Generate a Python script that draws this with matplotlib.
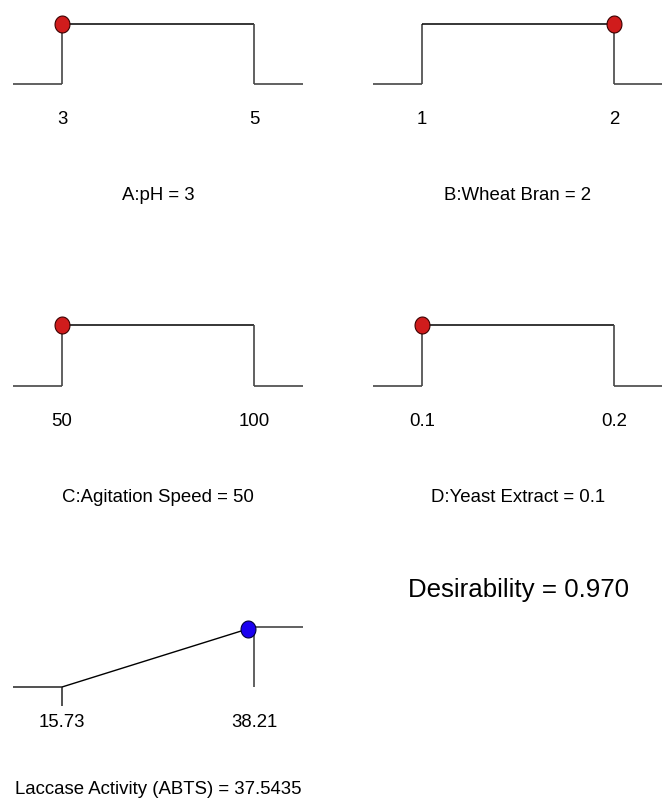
import numpy as np
import matplotlib
matplotlib.use('Agg')
import matplotlib.pyplot as plt
from matplotlib.path import Path

# factor ranges and the optimum setting found
factors = ['A:pH', 'B:Wheat Bran', 'C:Agitation Speed', 'D:Yeast Extract']
lows = [3, 1, 50, 0.1]
highs = [5, 2, 100, 0.2]
settings = [3, 2, 50, 0.1]
low_labels = ['3', '1', '50', '0.1']
high_labels = ['5', '2', '100', '0.2']

# response
response = 'Laccase Activity (ABTS)'
resp_low = 15.73
resp_high = 38.21
resp_value = 37.5435
desirability = 0.970

W, H = 662, 805
plt.rcParams['font.family'] = ['Liberation Sans', 'DejaVu Sans']
fig = plt.figure(figsize=(W / 100, H / 100), dpi=100)

GRAY = '#454545'
PX = 0.72  # points per pixel


def make_ax(x_low, x_high, top, base):
    # axes spanning the low..high range in pixels, y 0..1 between base and top
    ax = fig.add_axes([x_low / W, 1 - base / H, (x_high - x_low) / W, (base - top) / H])
    ax.set_ylim(0, 1)
    ax.axis('off')
    return ax


theta = np.linspace(0, 2 * np.pi, 60)
ellipse = Path(np.column_stack([0.88 * np.cos(theta), np.sin(theta)]))

# pixel layout of the four factor panels: (x_low, x_high, top, base)
layout = [(62, 254, 24, 84), (422, 614, 24, 84), (62, 254, 325, 386), (422, 614, 325, 386)]

for i, name in enumerate(factors):
    lo, hi, val = lows[i], highs[i], settings[i]
    ax = make_ax(*layout[i])
    ax.set_xlim(lo, hi)
    ext = 49 / 192 * (hi - lo)
    kw = dict(clip_on=False, solid_capstyle='butt')
    ax.plot([lo - ext, lo], [0, 0], color=GRAY, lw=1.2, **kw)
    ax.plot([lo, lo], [0, 1], color=GRAY, lw=1.2, **kw)
    ax.plot([lo, hi], [1, 1], color='black', lw=1.1, **kw)
    ax.plot([hi, hi], [1, 0], color=GRAY, lw=1.2, **kw)
    ax.plot([hi, hi + ext], [0, 0], color=GRAY, lw=1.2, **kw)
    ax.plot([val], [1], marker=ellipse, markersize=12.2, color='#d01c1c',
            markeredgecolor='#3a0000', markeredgewidth=0.8, clip_on=False, zorder=5)
    for x, lab in [(lo, low_labels[i]), (hi, high_labels[i])]:
        ax.annotate(lab, (x, 0), xytext=(0, -40 * PX), textcoords='offset points',
                    ha='center', va='baseline', fontsize=13.4)
    ax.annotate(f'{name} = {val:g}', ((lo + hi) / 2, 0), xytext=(0, -116 * PX),
                textcoords='offset points', ha='center', va='baseline', fontsize=13.4)

# response panel
ax = make_ax(62, 254, 627, 687)
ax.set_xlim(resp_low, resp_high)
ext = 49 / 192 * (resp_high - resp_low)
kw = dict(clip_on=False, solid_capstyle='butt')
ax.plot([resp_low - ext, resp_low], [0, 0], color='#222222', lw=1.1, **kw)
ax.plot([resp_low, resp_low], [0, -19 / 60], color='#222222', lw=1.1, **kw)
ax.plot([resp_low, resp_high], [0, 1], color='black', lw=1.0, **kw)
ax.plot([resp_high, resp_high], [1, 0], color=GRAY, lw=1.2, **kw)
ax.plot([resp_high, resp_high + ext], [1, 1], color=GRAY, lw=1.2, **kw)
d_resp = (resp_value - resp_low) / (resp_high - resp_low)
ax.plot([resp_value], [d_resp], marker=ellipse, markersize=12.2, color='#1a00f0',
        markeredgecolor='#000040', markeredgewidth=0.8, clip_on=False, zorder=5)
for x in [resp_low, resp_high]:
    ax.annotate(f'{x:.2f}', (x, 0), xytext=(0, -40 * PX), textcoords='offset points',
                ha='center', va='baseline', fontsize=13.4)
ax.annotate(f'{response} = {resp_value}', ((resp_low + resp_high) / 2, 0),
            xytext=(0, -107 * PX), textcoords='offset points',
            ha='center', va='baseline', fontsize=13.4)

fig.text(518 / W, 1 - 597 / H, f'Desirability = {desirability:.3f}',
         ha='center', va='baseline', fontsize=18.6)

fig.savefig('out.png', dpi=100)
